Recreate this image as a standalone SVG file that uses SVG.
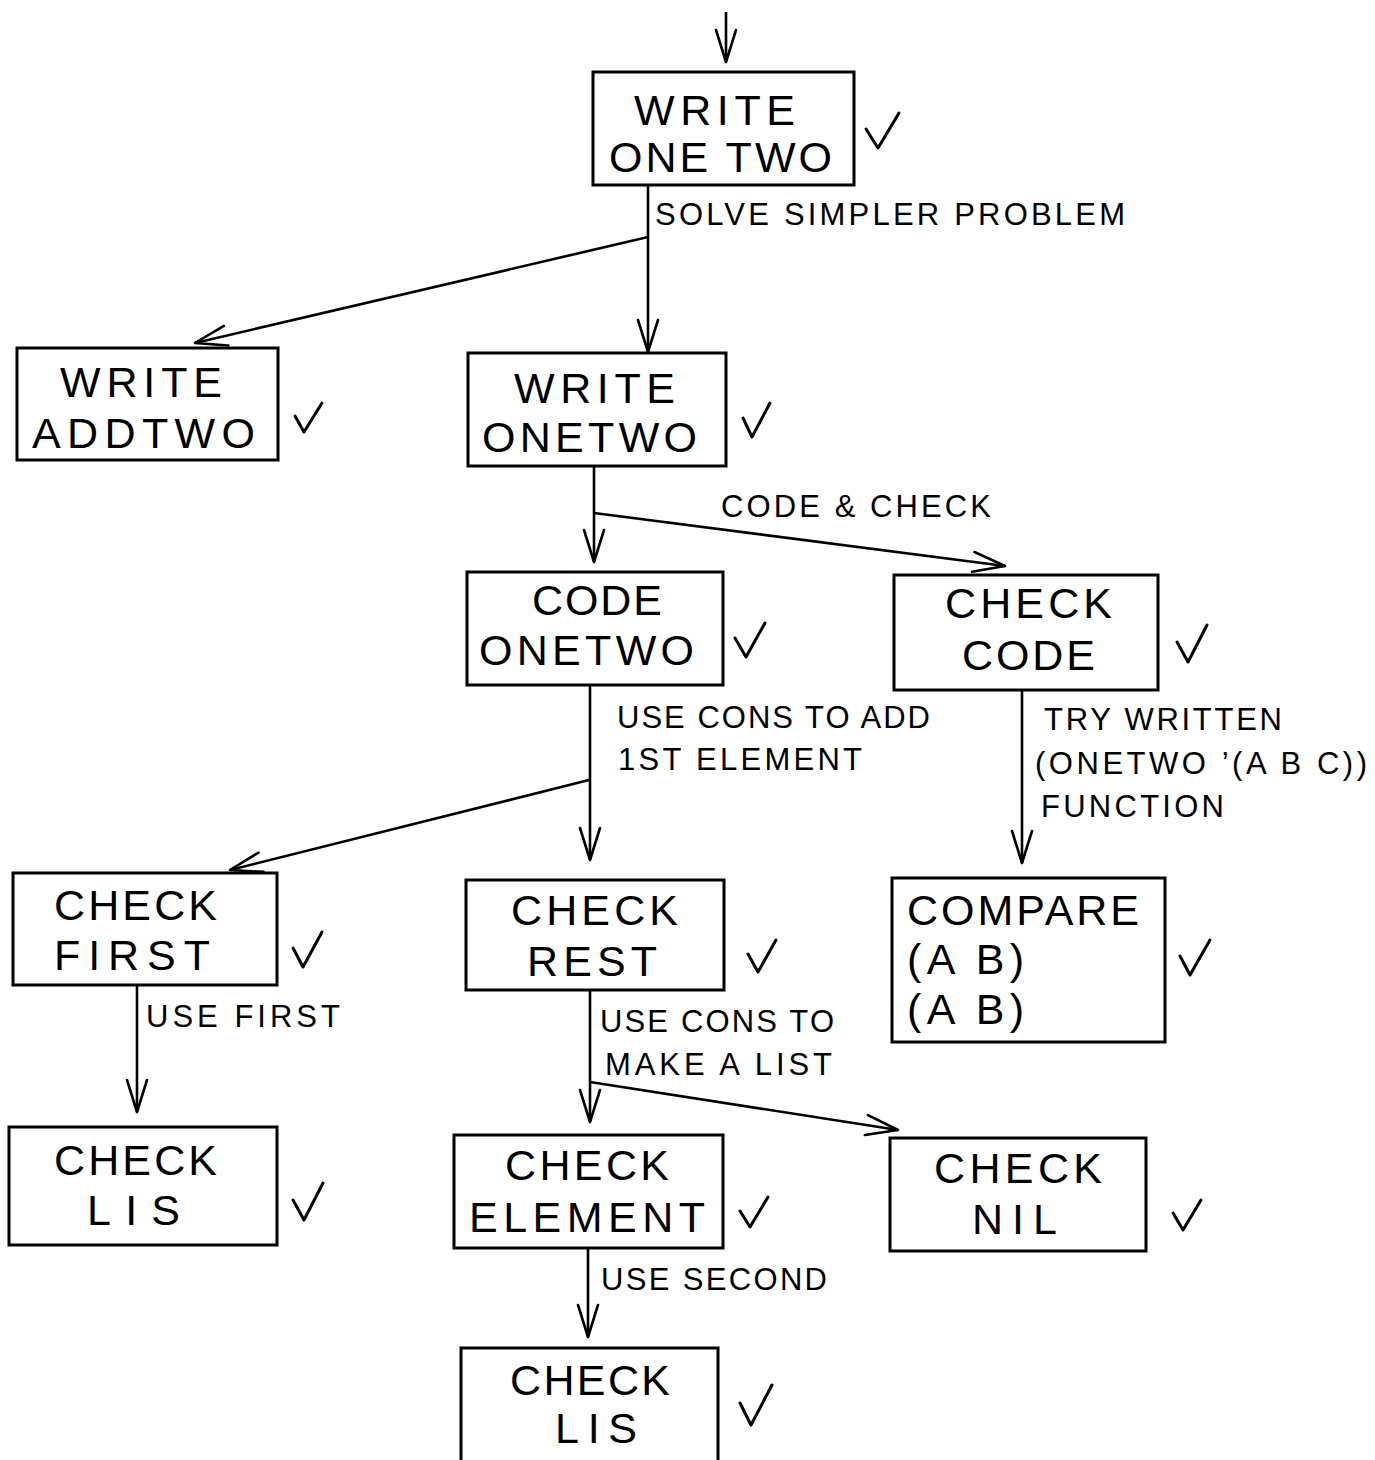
<svg xmlns="http://www.w3.org/2000/svg" width="1375" height="1460" viewBox="0 0 1375 1460">
  <style>
    .box { fill: none; stroke: #000; stroke-width: 3; }
    .big { font-family: "Liberation Sans", Arial, sans-serif; font-size: 43px; fill: #000; }
    .lbl { font-family: "Liberation Sans", Arial, sans-serif; font-size: 31px; fill: #000; }
    .tick { fill: none; stroke: #000; stroke-width: 3; stroke-linecap: round; stroke-linejoin: round; }
    .edge { fill: none; stroke: #000; stroke-width: 2.6; marker-end: url(#arrow); }
    .line { fill: none; stroke: #000; stroke-width: 2.6; }
  </style>
  <defs>
    <marker id="arrow" markerUnits="userSpaceOnUse" viewBox="0 0 36 24" refX="34" refY="12" markerWidth="36" markerHeight="24" orient="auto">
      <path d="M2,2 L34,12 L2,22" fill="none" stroke="#000" stroke-width="2.6" stroke-linecap="round" stroke-linejoin="round"/>
    </marker>
  </defs>
  <rect width="1375" height="1460" fill="#fff"/>

  <!-- connectors -->
  <g id="connectors">
    <path class="edge" d="M726,12 L726,62"/>
    <path class="edge" d="M648,185 L648,352"/>
    <path class="edge" d="M648,237 L195,343"/>
    <path class="edge" d="M594,466 L594,562"/>
    <path class="edge" d="M594,513 L1005,566"/>
    <path class="edge" d="M590,685 L590,860"/>
    <path class="edge" d="M589,780 L230,870"/>
    <path class="edge" d="M1022,690 L1022,863"/>
    <path class="edge" d="M137,985 L137,1112"/>
    <path class="edge" d="M590,990 L590,1122"/>
    <path class="edge" d="M590,1082 L898,1130"/>
    <path class="edge" d="M588,1248 L588,1337"/>

    <text class="lbl" x="655" y="225" textLength="470" lengthAdjust="spacing">SOLVE SIMPLER PROBLEM</text>
    <text class="lbl" x="721" y="517" textLength="270" lengthAdjust="spacing">CODE &amp; CHECK</text>
    <text class="lbl" x="617" y="728" textLength="313" lengthAdjust="spacing">USE CONS TO ADD</text>
    <text class="lbl" x="618" y="770" textLength="244" lengthAdjust="spacing">1ST ELEMENT</text>
    <text class="lbl" x="1044" y="730" textLength="238" lengthAdjust="spacing">TRY WRITTEN</text>
    <text class="lbl" x="1035" y="774" textLength="332" lengthAdjust="spacing">(ONETWO ’(A B C))</text>
    <text class="lbl" x="1041" y="817" textLength="183" lengthAdjust="spacing">FUNCTION</text>
    <text class="lbl" x="146" y="1027" textLength="194" lengthAdjust="spacing">USE FIRST</text>
    <text class="lbl" x="600" y="1032" textLength="234" lengthAdjust="spacing">USE CONS TO</text>
    <text class="lbl" x="605" y="1075" textLength="227" lengthAdjust="spacing">MAKE A LIST</text>
    <text class="lbl" x="601" y="1290" textLength="226" lengthAdjust="spacing">USE SECOND</text>
  </g>

  <!-- task boxes -->
  <g id="write-onetwo-top">
    <rect class="box" x="593" y="72" width="261" height="113"/>
    <text class="big" x="634" y="125" textLength="161" lengthAdjust="spacing">WRITE</text>
    <text class="big" x="609" y="172" textLength="223" lengthAdjust="spacing">ONE TWO</text>
    <path class="tick" d="M866,129 L878,148 L899,113"/>
  </g>

  <g id="write-addtwo">
    <rect class="box" x="17" y="348" width="261" height="112"/>
    <text class="big" x="60" y="397" textLength="162" lengthAdjust="spacing">WRITE</text>
    <text class="big" x="32" y="448" textLength="223" lengthAdjust="spacing">ADDTWO</text>
    <path class="tick" d="M295,416 L304,432 L322,403"/>
  </g>

  <g id="write-onetwo">
    <rect class="box" x="468" y="353" width="258" height="113"/>
    <text class="big" x="514" y="403" textLength="161" lengthAdjust="spacing">WRITE</text>
    <text class="big" x="482" y="452" textLength="215" lengthAdjust="spacing">ONETWO</text>
    <path class="tick" d="M743,418 L752,437 L770,403"/>
  </g>

  <g id="code-onetwo">
    <rect class="box" x="467" y="572" width="256" height="113"/>
    <text class="big" x="532" y="615" textLength="130" lengthAdjust="spacing">CODE</text>
    <text class="big" x="479" y="665" textLength="215" lengthAdjust="spacing">ONETWO</text>
    <path class="tick" d="M735,638 L746,657 L765,623"/>
  </g>

  <g id="check-code">
    <rect class="box" x="894" y="575" width="264" height="115"/>
    <text class="big" x="945" y="618" textLength="167" lengthAdjust="spacing">CHECK</text>
    <text class="big" x="962" y="670" textLength="133" lengthAdjust="spacing">CODE</text>
    <path class="tick" d="M1177,642 L1188,662 L1207,625"/>
  </g>

  <g id="check-first">
    <rect class="box" x="13" y="873" width="264" height="112"/>
    <text class="big" x="54" y="920" textLength="163" lengthAdjust="spacing">CHECK</text>
    <text class="big" x="54" y="970" textLength="156" lengthAdjust="spacing">FIRST</text>
    <path class="tick" d="M293,948 L303,967 L322,932"/>
  </g>

  <g id="check-rest">
    <rect class="box" x="466" y="880" width="258" height="110"/>
    <text class="big" x="511" y="925" textLength="167" lengthAdjust="spacing">CHECK</text>
    <text class="big" x="527" y="976" textLength="130" lengthAdjust="spacing">REST</text>
    <path class="tick" d="M748,954 L758,972 L776,940"/>
  </g>

  <g id="compare">
    <rect class="box" x="892" y="878" width="273" height="164"/>
    <text class="big" x="907" y="925" textLength="232" lengthAdjust="spacing">COMPARE</text>
    <text class="big" x="907" y="974" textLength="117" lengthAdjust="spacing">(A B)</text>
    <text class="big" x="907" y="1024" textLength="117" lengthAdjust="spacing">(A B)</text>
    <path class="tick" d="M1180,956 L1190,975 L1210,940"/>
  </g>

  <g id="check-lis-left">
    <rect class="box" x="9" y="1127" width="268" height="118"/>
    <text class="big" x="54" y="1175" textLength="163" lengthAdjust="spacing">CHECK</text>
    <text class="big" x="87" y="1225" textLength="93" lengthAdjust="spacing">LIS</text>
    <path class="tick" d="M293,1200 L304,1220 L323,1183"/>
  </g>

  <g id="check-element">
    <rect class="box" x="454" y="1135" width="269" height="113"/>
    <text class="big" x="505" y="1180" textLength="164" lengthAdjust="spacing">CHECK</text>
    <text class="big" x="469" y="1232" textLength="236" lengthAdjust="spacing">ELEMENT</text>
    <path class="tick" d="M740,1211 L750,1227 L768,1197"/>
  </g>

  <g id="check-nil">
    <rect class="box" x="890" y="1138" width="256" height="113"/>
    <text class="big" x="934" y="1183" textLength="168" lengthAdjust="spacing">CHECK</text>
    <text class="big" x="972" y="1234" textLength="85" lengthAdjust="spacing">NIL</text>
    <path class="tick" d="M1173,1213 L1183,1230 L1201,1200"/>
  </g>

  <g id="check-lis-bottom">
    <rect class="box" x="461" y="1348" width="257" height="130"/>
    <text class="big" x="510" y="1395" textLength="160" lengthAdjust="spacing">CHECK</text>
    <text class="big" x="555" y="1443" textLength="82" lengthAdjust="spacing">LIS</text>
    <path class="tick" d="M740,1403 L751,1425 L772,1385"/>
  </g>
</svg>
